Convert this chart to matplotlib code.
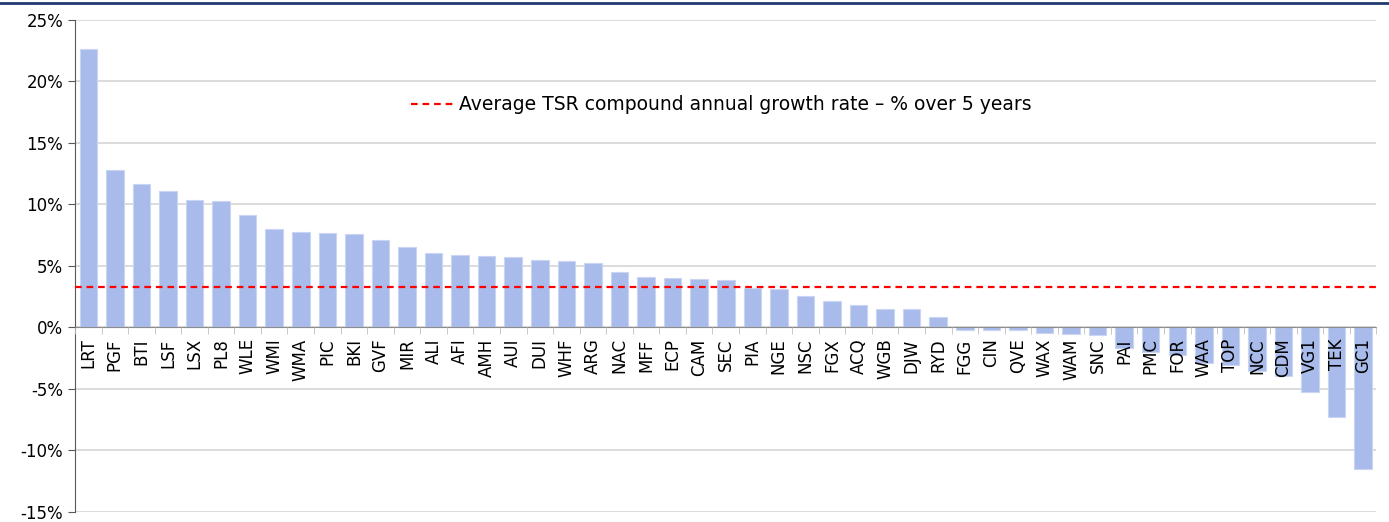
import numpy as np
import matplotlib.pyplot as plt
from matplotlib.lines import Line2D
from matplotlib.ticker import FuncFormatter

## data
tickers = ['LRT', 'PGF', 'BTI', 'LSF', 'LSX', 'PL8', 'WLE', 'WMI', 'WMA', 'PIC',
           'BKI', 'GVF', 'MIR', 'ALI', 'AFI', 'AMH', 'AUI', 'DUI', 'WHF', 'ARG',
           'NAC', 'MFF', 'ECP', 'CAM', 'SEC', 'PIA', 'NGE', 'NSC', 'FGX', 'ACQ',
           'WGB', 'DJW', 'RYD', 'FGG', 'CIN', 'QVE', 'WAX', 'WAM', 'SNC', 'PAI',
           'PMC', 'FOR', 'WAA', 'TOP', 'NCC', 'CDM', 'VG1', 'TEK', 'GC1']
tsr = [22.6, 12.8, 11.65, 11.1, 10.35, 10.3, 9.15, 8.0, 7.75, 7.7,
       7.6, 7.1, 6.55, 6.0, 5.9, 5.8, 5.7, 5.5, 5.4, 5.2,
       4.45, 4.1, 4.0, 3.95, 3.8, 3.2, 3.1, 2.5, 2.1, 1.8,
       1.5, 1.45, 0.8, -0.2, -0.2, -0.25, -0.5, -0.55, -0.6, -1.7,
       -2.0, -2.3, -2.95, -3.05, -3.6, -4.0, -5.3, -7.3, -11.5]
avgTsr = 3.3
legendLabel = 'Average TSR compound annual growth rate \u2013 % over 5 years'

fntSize = 12
yTicks = np.arange(-15, 26, 5)

fig, ax = plt.subplots(figsize=(13.89, 5.22), dpi=100)
fig.subplots_adjust(left=0.054, right=0.991, top=0.962, bottom=0.02)

x = np.arange(len(tickers))

# gridlines drawn by hand so they stay behind the bars while tick labels stay on top
for yt in yTicks:
    ax.axhline(yt, color='#d9d9d9', linewidth=1.3, zorder=0.5)

ax.bar(x, tsr, width=0.66, color='#a8bbeb', edgecolor='#c9d5f3', linewidth=0.8, zorder=1)
ax.axhline(avgTsr, color='#ff0000', linestyle=(0, (3, 2.2)), linewidth=1.6, zorder=3)
ax.set_axisbelow(False)

ax.set_xlim(-0.5, len(tickers) - 0.5)
ax.set_ylim(-15, 25)
ax.set_yticks(yTicks)
ax.yaxis.set_major_formatter(FuncFormatter(lambda v, p: f'{v:.0f}%'))

# x axis sits at zero, ticks between categories
ax.spines['bottom'].set_position(('data', 0))
ax.spines['bottom'].set_color('#8c8c8c')
ax.spines['left'].set_color('#595959')
ax.spines['top'].set_visible(False)
ax.spines['right'].set_visible(False)
ax.set_xticks(x, tickers, rotation=90, fontsize=fntSize)
ax.tick_params(axis='x', length=0, pad=8)
ax.set_xticks(np.arange(len(tickers) + 1) - 0.5, minor=True)
ax.tick_params(axis='x', which='minor', length=5, color='#bfbfbf')
ax.tick_params(axis='y', labelsize=fntSize, length=5, color='#595959')

handle = Line2D([], [], color='#ff0000', linestyle=(0, (3, 2.2)), linewidth=1.6)
fig.legend([handle], [legendLabel], loc='center', bbox_to_anchor=(0.5194, 0.799),
           frameon=False, fontsize=fntSize + 1.5, handlelength=2.4, handletextpad=0.15)

# header rule from the cropped page
fig.add_artist(Line2D([0, 1], [0.994, 0.994], color='#1f3a6e', linewidth=2, transform=fig.transFigure))

fig.savefig('out.png', dpi=100)
